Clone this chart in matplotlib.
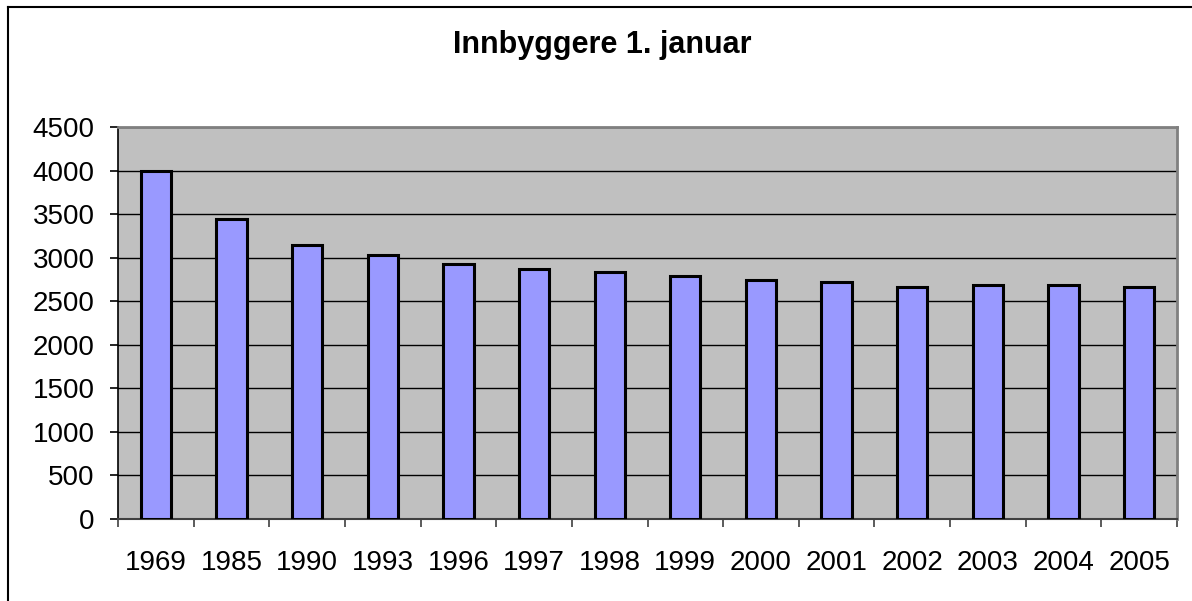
import matplotlib.pyplot as plt
from matplotlib.lines import Line2D
import numpy as np

# data
years = ["1969", "1985", "1990", "1993", "1996", "1997", "1998",
         "1999", "2000", "2001", "2002", "2003", "2004", "2005"]
innbyggere = [4000, 3440, 3140, 3025, 2930, 2872, 2830,
              2795, 2738, 2715, 2662, 2685, 2689, 2666]
y_ticks = [0, 500, 1000, 1500, 2000, 2500, 3000, 3500, 4000, 4500]

plt.rcParams["font.family"] = ["Liberation Sans", "DejaVu Sans"]

fig = plt.figure(figsize=(11.92, 6.01), dpi=100)
ax = fig.add_axes([118 / 1192, 82 / 601, 1059 / 1192, 392 / 601])

ax.set_facecolor("#c0c0c0")
x = np.arange(len(years))
ax.bar(x, innbyggere, width=0.4, color="#9999ff", edgecolor="black",
       linewidth=2.2, zorder=3)

ax.set_xlim(-0.5, len(years) - 0.5)
ax.set_ylim(0, 4500)
ax.set_yticks(y_ticks)
ax.set_yticklabels([str(v) for v in y_ticks], fontsize=20)
ax.yaxis.grid(True, color="black", linewidth=1.0, zorder=1)

# x ticks sit between categories, labels at the centres
ax.set_xticks(np.arange(len(years) + 1) - 0.5)
ax.set_xticklabels([])
ax.set_xticks(x, minor=True)
ax.set_xticklabels(years, minor=True, fontsize=20)
ax.tick_params(axis="x", which="minor", length=0, pad=22)
ax.tick_params(axis="x", which="major", length=5.8, width=1.2, color="#404040")
ax.tick_params(axis="y", length=5.8, width=1.2, pad=11)

for side in ["top", "right"]:
    ax.spines[side].set_color("#808080")
    ax.spines[side].set_linewidth(2)
ax.spines["left"].set_color("black")
ax.spines["left"].set_linewidth(1.2)
ax.spines["bottom"].set_color("#404040")
ax.spines["bottom"].set_linewidth(1.5)

fig.text(602 / 1192, 1 - 45 / 601, "Innbyggere 1. januar", ha="center",
         va="center", fontsize=22, fontweight="bold")

# chart frame (left and top edges only are visible)
fig.add_artist(Line2D([8 / 1192, 8 / 1192], [0, 1 - 7 / 601],
                      transform=fig.transFigure, color="black", linewidth=1.5))
fig.add_artist(Line2D([8 / 1192, 1], [1 - 7 / 601, 1 - 7 / 601],
                      transform=fig.transFigure, color="black", linewidth=1.5))

fig.savefig("out.png", dpi=100)
